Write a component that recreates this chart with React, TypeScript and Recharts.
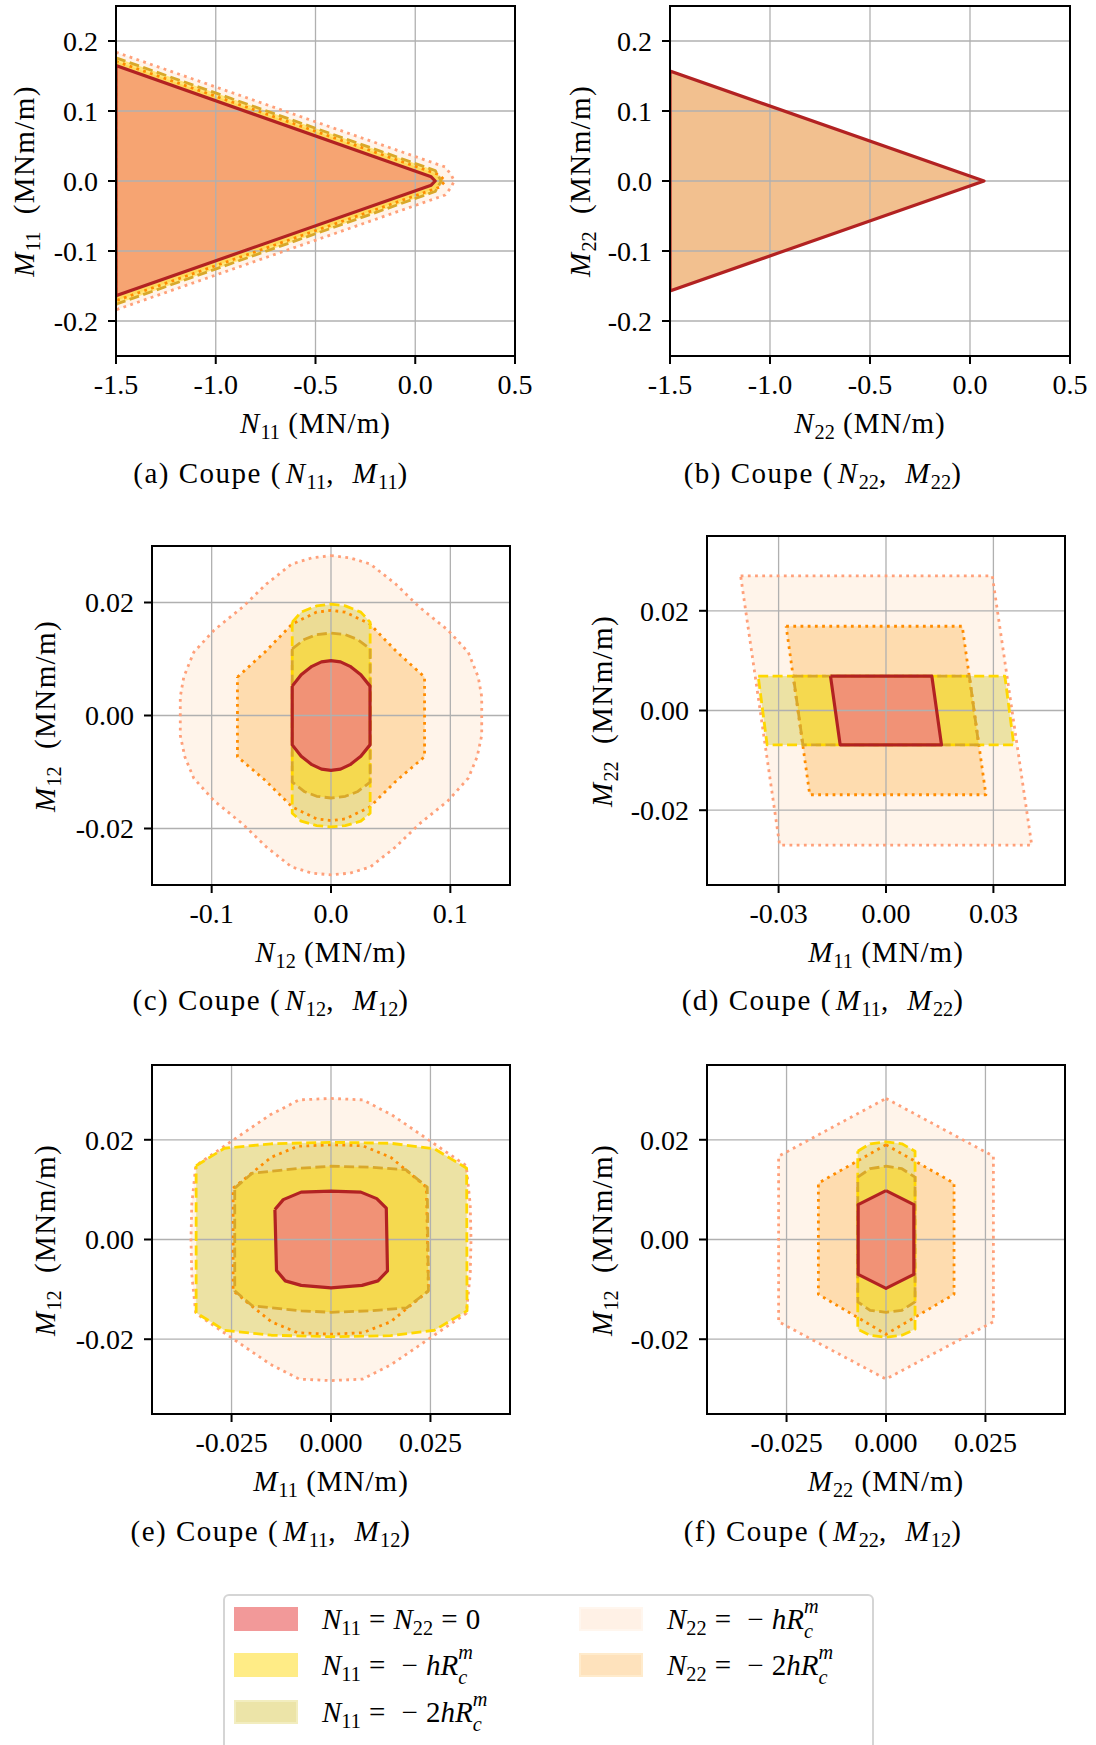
import React from 'react';
import { ScatterChart, Scatter, XAxis, YAxis, CartesianGrid } from 'recharts';

const FONT = '"Liberation Serif", "Times New Roman", serif';

// ---------------- data ----------------
// series keys: zero = N11=N22=0, n11h = N11=-hRc, n11h2 = N11=-2hRc, n22h = N22=-hRc, n22h2 = N22=-2hRc

// (a) N11-M11
const a_n22h = [[-1.5, 0.184], [0.15, 0.02], [0.18, 0.009], [0.195, 0], [0.18, -0.009], [0.15, -0.02], [-1.5, -0.184]];
const a_n22h2 = [[-1.5, 0.171], [0.12, 0.009], [0.15, 0], [0.12, -0.009], [-1.5, -0.171]];
const a_n11h = [[-1.5, 0.176], [0.1, 0.015], [0.13, 0], [0.1, -0.015], [-1.5, -0.176]];
const a_zero = [[-1.5, 0.165], [0.08, 0.006], [0.1, 0], [0.08, -0.006], [-1.5, -0.164]];

// (b) N22-M22
const b_zero = [[-1.5, 0.157], [0.07, 0], [-1.5, -0.157]];

// (c) N12-M12
const c_n22h = [[0, 0.0283], [0.016, 0.0279], [0.033, 0.0268], [0.054, 0.0233], [0.074, 0.0192], [0.098, 0.0151], [0.115, 0.0112], [0.1234, 0.0068], [0.1263, 0.0033], [0.1263, -0.0035], [0.1225, -0.0073], [0.115, -0.0111], [0.098, -0.0151], [0.074, -0.0192], [0.054, -0.0233], [0.033, -0.0268], [0.016, -0.0279], [0, -0.0282], [-0.016, -0.0279], [-0.033, -0.0268], [-0.054, -0.0233], [-0.074, -0.0192], [-0.098, -0.0151], [-0.115, -0.0111], [-0.1225, -0.0073], [-0.1263, -0.0035], [-0.1263, 0.0033], [-0.1234, 0.0068], [-0.115, 0.0112], [-0.098, 0.0151], [-0.074, 0.0192], [-0.054, 0.0233], [-0.033, 0.0268], [-0.016, 0.0279]];
const c_n22h2 = [[-0.0784, 0.0068], [-0.055, 0.0113], [-0.0325, 0.0162], [-0.012, 0.0183], [0, 0.0186], [0.012, 0.0183], [0.0325, 0.0162], [0.055, 0.0113], [0.0784, 0.0068], [0.0784, -0.0073], [0.055, -0.0115], [0.0325, -0.0162], [0.012, -0.0183], [0, -0.0186], [-0.012, -0.0183], [-0.0325, -0.0162], [-0.055, -0.0115], [-0.0784, -0.0073]];
const c_n11h2 = [[-0.0325, 0.0165], [-0.025, 0.0183], [-0.012, 0.0194], [0, 0.0197], [0.012, 0.0194], [0.025, 0.0183], [0.0328, 0.0165], [0.0328, -0.0173], [0.025, -0.0187], [0.012, -0.0195], [0, -0.0197], [-0.012, -0.0195], [-0.025, -0.0187], [-0.0325, -0.0173]];
const c_n11h = [[-0.0325, 0.0118], [-0.022, 0.0135], [-0.012, 0.0143], [0, 0.0146], [0.012, 0.0143], [0.022, 0.0135], [0.0328, 0.0118], [0.0328, -0.0118], [0.022, -0.0135], [0.012, -0.0143], [0, -0.0146], [-0.012, -0.0143], [-0.022, -0.0135], [-0.0325, -0.0118]];
const c_zero = [[-0.0325, 0.0052], [-0.025, 0.0072], [-0.016, 0.0087], [-0.008, 0.0095], [0, 0.0097], [0.008, 0.0095], [0.016, 0.0087], [0.025, 0.0072], [0.0327, 0.0052], [0.0327, -0.0052], [0.025, -0.0072], [0.016, -0.0087], [0.008, -0.0095], [0, -0.0097], [-0.008, -0.0095], [-0.016, -0.0087], [-0.025, -0.0072], [-0.0325, -0.0052]];

// (d) M11-M22
const d_n22h = [[-0.0406, 0.027], [0.0297, 0.027], [0.0407, -0.027], [-0.0297, -0.027]];
const d_n22h2 = [[-0.0279, 0.0169], [0.0213, 0.0169], [0.0279, -0.0169], [-0.0213, -0.0169]];
const d_n11h2 = [[-0.0357, 0.0069], [0.0332, 0.0069], [0.0357, -0.0069], [-0.0332, -0.0069]];
const d_n11h = [[-0.0259, 0.0069], [0.0233, 0.0069], [0.0259, -0.0069], [-0.0232, -0.0069]];
const d_zero = [[-0.0155, 0.0069], [0.0128, 0.0069], [0.0155, -0.0069], [-0.0128, -0.0069]];

// (e) M11-M12
const e_n22h = [[0, 0.0283], [0.008, 0.028], [0.0153, 0.025], [0.0245, 0.02], [0.034, 0.0148], [0.035, 0.007], [0.0352, 0], [0.035, -0.007], [0.034, -0.0148], [0.0245, -0.02], [0.0153, -0.025], [0.008, -0.028], [0, -0.0283], [-0.008, -0.028], [-0.0153, -0.025], [-0.0245, -0.02], [-0.034, -0.0148], [-0.035, -0.007], [-0.0352, 0], [-0.035, 0.007], [-0.034, 0.0148], [-0.0245, 0.02], [-0.0153, 0.025], [-0.008, 0.028]];
const e_n22h2 = [[-0.0246, 0.0103], [-0.015, 0.0165], [-0.0084, 0.0187], [0, 0.019], [0.008, 0.0188], [0.015, 0.0165], [0.024, 0.0105], [0.0245, -0.0103], [0.015, -0.0165], [0.008, -0.0187], [0, -0.019], [-0.0084, -0.0187], [-0.015, -0.0165], [-0.0246, -0.0103]];
const e_n11h2 = [[-0.0339, 0.0148], [-0.0268, 0.0183], [-0.015, 0.0192], [0, 0.0195], [0.015, 0.0193], [0.026, 0.0182], [0.0341, 0.0143], [0.0342, -0.0143], [0.026, -0.0182], [0.015, -0.0193], [0, -0.0195], [-0.015, -0.0192], [-0.0268, -0.0182], [-0.0339, -0.0147]];
const e_n11h = [[-0.0242, 0.0103], [-0.0198, 0.0133], [-0.0075, 0.0143], [0, 0.0147], [0.01, 0.0145], [0.0188, 0.014], [0.0242, 0.0105], [0.0245, -0.0103], [0.019, -0.0137], [0.01, -0.0143], [0, -0.0146], [-0.0075, -0.0143], [-0.0198, -0.0133], [-0.0242, -0.0103]];
const e_zero = [[-0.0141, 0.006], [-0.012, 0.008], [-0.0075, 0.0095], [0, 0.0097], [0.0075, 0.0095], [0.0115, 0.0082], [0.0139, 0.0063], [0.0142, -0.0063], [0.0118, -0.0083], [0.0078, -0.0092], [0, -0.0097], [-0.0075, -0.0092], [-0.0115, -0.0083], [-0.0137, -0.0062]];

// (f) M22-M12
const f_n22h = [[0, 0.0283], [0.027, 0.0167], [0.027, -0.0165], [0, -0.028], [-0.027, -0.0165], [-0.027, 0.0167]];
const f_n22h2 = [[0, 0.019], [0.0171, 0.0113], [0.0171, -0.011], [0, -0.019], [-0.017, -0.011], [-0.017, 0.0113]];
const f_n11h2 = [[-0.0071, 0.0177], [-0.004, 0.0192], [0, 0.0196], [0.004, 0.0192], [0.0073, 0.0177], [0.0073, -0.018], [0.004, -0.0192], [0, -0.0196], [-0.004, -0.0192], [-0.0071, -0.018]];
const f_n11h = [[-0.0071, 0.0125], [-0.004, 0.0142], [0, 0.0147], [0.004, 0.0142], [0.0073, 0.0125], [0.0073, -0.0125], [0.004, -0.0142], [0, -0.0146], [-0.004, -0.0142], [-0.0071, -0.0125]];
const f_zero = [[0, 0.0098], [0.007, 0.007], [0.007, -0.007], [0, -0.0098], [-0.007, -0.007], [-0.007, 0.007]];

// ticks
const ticksAB_x = [-1.5, -1.0, -0.5, 0.0, 0.5];
const labelsAB_x = ['-1.5', '-1.0', '-0.5', '0.0', '0.5'];
const ticksAB_y = [-0.2, -0.1, 0.0, 0.1, 0.2];
const labelsAB_y = ['-0.2', '-0.1', '0.0', '0.1', '0.2'];
const ticksC_x = [-0.1, 0.0, 0.1];
const labelsC_x = ['-0.1', '0.0', '0.1'];
const ticksM_y = [-0.02, 0.0, 0.02];
const labelsM_y = ['-0.02', '0.00', '0.02'];
const ticksD_x = [-0.03, 0.0, 0.03];
const labelsD_x = ['-0.03', '0.00', '0.03'];
const ticksEF_x = [-0.025, 0.0, 0.025];
const labelsEF_x = ['-0.025', '0.000', '0.025'];

// legend
const legendLabels = {
  zero: 'N11 = N22 = 0',
  n11h: 'N11 = -hRcm',
  n11h2: 'N11 = -2hRcm',
  n22h: 'N22 = -hRcm',
  n22h2: 'N22 = -2hRcm',
};

// ---------------- styles ----------------
type Key = 'n22h' | 'n22h2' | 'n11h2' | 'n11h' | 'zero';
const ORDER: Key[] = ['n22h', 'n22h2', 'n11h2', 'n11h', 'zero'];
const DOT = '2.8 4.4';
const DASH = '10 4.4';
const STYLE: Record<Key, { fill: string; op: number; stroke: string; dash?: string; sw: number; legendEdge: string }> = {
  n22h: { fill: '#FFDAB9', op: 0.3, stroke: '#FFA07A', dash: DOT, sw: 2.8, legendEdge: '#FFE6D0' },
  n22h2: { fill: '#FDB550', op: 0.38, stroke: '#FF8C00', dash: DOT, sw: 2.8, legendEdge: '#FFCB7A' },
  n11h2: { fill: '#E6DC8C', op: 0.75, stroke: '#FFD700', dash: DASH, sw: 2.8, legendEdge: '#EEE8AA' },
  n11h: { fill: '#FFD700', op: 0.47, stroke: '#D9A82A', dash: DASH, sw: 2.8, legendEdge: '#FFD700' },
  zero: { fill: '#F08080', op: 0.8, stroke: '#B22222', sw: 3.2, legendEdge: '#F08080' },
};

type Panel = {
  id: string;
  L: number; T: number; W: number; H: number;
  xDomain: [number, number]; yDomain: [number, number];
  xTicks: number[]; xLabels: string[]; yTicks: number[]; yLabels: string[];
  series: Partial<Record<Key, number[][]>>;
  fillOverride?: Partial<Record<Key, { fill: string; op: number }>>;
  xl: [string, string, string]; yl: [string, string, string];
  cap: [string, string, string, string, string];
  xlY: number; ylX: number; capY: number; capX: number;
};

const PANELS: Panel[] = [
  {
    id: 'a', L: 116, T: 6, W: 399, H: 350, xDomain: [-1.5, 0.5], yDomain: [-0.25, 0.25],
    xTicks: ticksAB_x, xLabels: labelsAB_x, yTicks: ticksAB_y, yLabels: labelsAB_y,
    series: { n22h: a_n22h, n22h2: a_n22h2, n11h: a_n11h, zero: a_zero },
    fillOverride: { zero: { fill: '#F08080', op: 0.6 } },
    xl: ['N', '11', 'MN/m'], yl: ['M', '11', 'MNm/m'], cap: ['a', 'N', '11', 'M', '11'],
    xlY: 423, ylX: 24, capY: 473, capX: 271,
  },
  {
    id: 'b', L: 670, T: 6, W: 400, H: 350, xDomain: [-1.5, 0.5], yDomain: [-0.25, 0.25],
    xTicks: ticksAB_x, xLabels: labelsAB_x, yTicks: ticksAB_y, yLabels: labelsAB_y,
    series: { zero: b_zero },
    fillOverride: { zero: { fill: '#F2C08F', op: 1 } },
    xl: ['N', '22', 'MN/m'], yl: ['M', '22', 'MNm/m'], cap: ['b', 'N', '22', 'M', '22'],
    xlY: 423, ylX: 580, capY: 473, capX: 823,
  },
  {
    id: 'c', L: 152, T: 546, W: 358, H: 339, xDomain: [-0.15, 0.15], yDomain: [-0.03, 0.03],
    xTicks: ticksC_x, xLabels: labelsC_x, yTicks: ticksM_y, yLabels: labelsM_y,
    series: { n22h: c_n22h, n22h2: c_n22h2, n11h2: c_n11h2, n11h: c_n11h, zero: c_zero },
    xl: ['N', '12', 'MN/m'], yl: ['M', '12', 'MNm/m'], cap: ['c', 'N', '12', 'M', '12'],
    xlY: 952, ylX: 45, capY: 1000, capX: 271,
  },
  {
    id: 'd', L: 707, T: 536, W: 358, H: 349, xDomain: [-0.05, 0.05], yDomain: [-0.035, 0.035],
    xTicks: ticksD_x, xLabels: labelsD_x, yTicks: ticksM_y, yLabels: labelsM_y,
    series: { n22h: d_n22h, n22h2: d_n22h2, n11h2: d_n11h2, n11h: d_n11h, zero: d_zero },
    xl: ['M', '11', 'MN/m'], yl: ['M', '22', 'MNm/m'], cap: ['d', 'M', '11', 'M', '22'],
    xlY: 952, ylX: 602, capY: 1000, capX: 823,
  },
  {
    id: 'e', L: 152, T: 1065, W: 358, H: 349, xDomain: [-0.045, 0.045], yDomain: [-0.035, 0.035],
    xTicks: ticksEF_x, xLabels: labelsEF_x, yTicks: ticksM_y, yLabels: labelsM_y,
    series: { n22h: e_n22h, n22h2: e_n22h2, n11h2: e_n11h2, n11h: e_n11h, zero: e_zero },
    xl: ['M', '11', 'MN/m'], yl: ['M', '12', 'MNm/m'], cap: ['e', 'M', '11', 'M', '12'],
    xlY: 1481, ylX: 45, capY: 1531, capX: 271,
  },
  {
    id: 'f', L: 707, T: 1065, W: 358, H: 349, xDomain: [-0.045, 0.045], yDomain: [-0.035, 0.035],
    xTicks: ticksEF_x, xLabels: labelsEF_x, yTicks: ticksM_y, yLabels: labelsM_y,
    series: { n22h: f_n22h, n22h2: f_n22h2, n11h2: f_n11h2, n11h: f_n11h, zero: f_zero },
    xl: ['M', '22', 'MN/m'], yl: ['M', '12', 'MNm/m'], cap: ['f', 'M', '22', 'M', '12'],
    xlY: 1481, ylX: 602, capY: 1531, capX: 823,
  },
];

// ---------------- helpers ----------------
const toPts = (arr: number[][], close: boolean) => {
  const pts = arr.map(([x, y]) => ({ x, y }));
  if (close) pts.push({ x: arr[0][0], y: arr[0][1] });
  return pts;
};
const NoShape = () => <g />;

const Sub = ({ children }: { children: React.ReactNode }) => (
  <span style={{ fontSize: '0.7em', position: 'relative', top: '0.32em', lineHeight: 0, letterSpacing: 0 }}>{children}</span>
);
const Op = ({ children }: { children: React.ReactNode }) => (
  <span style={{ margin: '0 0.28em' }}>{children}</span>
);
const Rcm = () => (
  <span style={{ whiteSpace: 'nowrap' }}>
    <i>R</i>
    <span style={{ fontSize: '0.7em' }}>
      <i style={{ position: 'relative', top: '-0.8em' }}>m</i>
      <i style={{ position: 'relative', top: '0.45em', marginLeft: '-0.72em', marginRight: '0.3em' }}>c</i>
    </span>
  </span>
);

const MT = 12, MR = 45, WY = 110, HX = 60;

function PanelView({ p }: { p: Panel }) {
  const chartW = WY + p.W + MR;
  const chartH = MT + p.H + HX;
  const pos: React.CSSProperties = { position: 'absolute', left: p.L - WY, top: p.T - MT };
  const keys = ORDER.filter((k) => p.series[k]);
  const tickStyle = { fontSize: 28, fill: '#000', fontFamily: FONT };
  return (
    <>
      {/* fills */}
      <div style={pos}>
        <ScatterChart width={chartW} height={chartH} margin={{ top: MT, right: MR, bottom: 0, left: 0 }}>
          <XAxis type="number" dataKey="x" domain={p.xDomain} ticks={p.xTicks} allowDataOverflow height={HX} tick={false} tickLine={false} axisLine={false} />
          <YAxis type="number" dataKey="y" domain={p.yDomain} ticks={p.yTicks} allowDataOverflow width={WY} tick={false} tickLine={false} axisLine={false} />
          {keys.map((k) => {
            const s = STYLE[k];
            const o = p.fillOverride?.[k];
            return (
              <Scatter
                key={k}
                data={toPts(p.series[k] as number[][], false)}
                shape={NoShape}
                line={{ fill: o ? o.fill : s.fill, fillOpacity: o ? o.op : s.op, stroke: 'none' }}
                isAnimationActive={false}
              />
            );
          })}
        </ScatterChart>
      </div>
      {/* grid + edges + ticks */}
      <div style={pos}>
        <ScatterChart width={chartW} height={chartH} margin={{ top: MT, right: MR, bottom: 0, left: 0 }}>
          <CartesianGrid stroke="#b0b0b0" strokeWidth={1.3} />
          <XAxis
            type="number" dataKey="x" domain={p.xDomain} ticks={p.xTicks} allowDataOverflow height={HX} interval={0}
            tick={tickStyle} tickFormatter={(_v: number, i: number) => p.xLabels[i]}
            tickSize={8} tickMargin={10} tickLine={{ stroke: '#000', strokeWidth: 2 }} axisLine={false}
          />
          <YAxis
            type="number" dataKey="y" domain={p.yDomain} ticks={p.yTicks} allowDataOverflow width={WY} interval={0}
            tick={tickStyle} tickFormatter={(_v: number, i: number) => p.yLabels[i]}
            tickSize={8} tickMargin={10} tickLine={{ stroke: '#000', strokeWidth: 2 }} axisLine={false}
          />
          {keys.map((k) => {
            const s = STYLE[k];
            return (
              <Scatter
                key={k}
                data={toPts(p.series[k] as number[][], true)}
                shape={NoShape}
                fill="none"
                stroke={s.stroke}
                strokeWidth={s.sw}
                strokeDasharray={s.dash}
                line={{ fill: 'none', stroke: s.stroke, strokeWidth: s.sw, strokeDasharray: s.dash, strokeLinejoin: 'round' }}
                isAnimationActive={false}
              />
            );
          })}
        </ScatterChart>
      </div>
      {/* axes frame */}
      <div style={{ position: 'absolute', left: p.L - 1, top: p.T - 1, width: p.W + 2, height: p.H + 2, border: '2px solid #000', boxSizing: 'border-box', pointerEvents: 'none' }} />
      {/* x label */}
      <div style={{ position: 'absolute', left: p.L + p.W / 2, top: p.xlY, transform: 'translate(-50%,-50%)', fontSize: 29, lineHeight: 1, whiteSpace: 'nowrap', letterSpacing: '1px' }}>
        <i>{p.xl[0]}</i><Sub>{p.xl[1]}</Sub>{'\u00a0'}({p.xl[2]})
      </div>
      {/* y label */}
      <div style={{ position: 'absolute', left: p.ylX, top: p.T + p.H / 2, transform: 'translate(-50%,-50%) rotate(-90deg)', fontSize: 29, lineHeight: 1, whiteSpace: 'nowrap', letterSpacing: '1.4px' }}>
        <i>{p.yl[0]}</i><Sub>{p.yl[1]}</Sub>{'\u00a0\u00a0'}({p.yl[2]})
      </div>
      {/* caption */}
      <div style={{ position: 'absolute', left: p.capX, top: p.capY, transform: 'translate(-50%,-50%)', fontSize: 29, lineHeight: 1, whiteSpace: 'nowrap', letterSpacing: '1.5px' }}>
        ({p.cap[0]}) Coupe ({'\u200a'}<i>{p.cap[1]}</i><Sub>{p.cap[2]}</Sub>,{'\u00a0\u00a0'}<i>{p.cap[3]}</i><Sub>{p.cap[4]}</Sub>)
      </div>
    </>
  );
}

function LegendText({ k }: { k: Key }) {
  const t = legendLabels[k];
  const sym = t.slice(0, 1);
  const sub = t.slice(1, 3);
  if (k === 'zero') {
    return (<span><i>N</i><Sub>11</Sub><Op>=</Op><i>N</i><Sub>22</Sub><Op>=</Op>0</span>);
  }
  const coef = t.includes('-2h') ? '2' : '';
  return (
    <span>
      <i>{sym}</i><Sub>{sub}</Sub><Op>=</Op><Op>−</Op>{coef}<i>h</i><Rcm />
    </span>
  );
}

const LEGEND_ITEMS: { k: Key; x: number; y: number }[] = [
  { k: 'zero', x: 234, y: 1619 },
  { k: 'n11h', x: 234, y: 1665 },
  { k: 'n11h2', x: 234, y: 1712 },
  { k: 'n22h', x: 579, y: 1619 },
  { k: 'n22h2', x: 579, y: 1665 },
];

export default function App() {
  return (
    <div style={{ position: 'absolute', left: 0, top: 0, width: 1096, height: 1745, background: '#fff', overflow: 'hidden', fontFamily: FONT, color: '#000' }}>
      {PANELS.map((p) => <PanelView key={p.id} p={p} />)}
      {/* legend */}
      <div style={{ position: 'absolute', left: 223, top: 1594, width: 651, height: 200, border: '2px solid #d5d5d5', borderRadius: 6, boxSizing: 'border-box', background: '#fff' }} />
      {LEGEND_ITEMS.map(({ k, x, y }) => {
        const s = STYLE[k];
        const a = s.op;
        return (
          <React.Fragment key={k}>
            <div style={{ position: 'absolute', left: x, top: y - 12, width: 64, height: 24, boxSizing: 'border-box', border: `2px solid ${s.legendEdge}`, background: s.fill, opacity: k === 'n22h' ? 0.35 : a }} />
            <div style={{ position: 'absolute', left: x + 88, top: y, transform: 'translateY(-50%)', fontSize: 29, lineHeight: 1, whiteSpace: 'nowrap' }}>
              <LegendText k={k} />
            </div>
          </React.Fragment>
        );
      })}
    </div>
  );
}
